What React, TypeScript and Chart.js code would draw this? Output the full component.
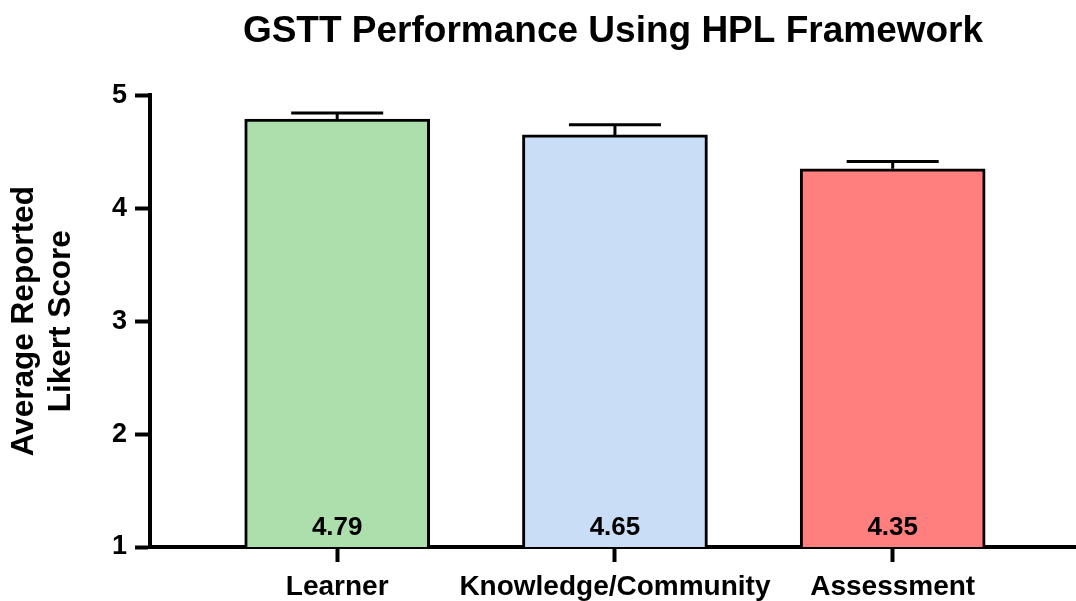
import React, { useEffect, useRef } from "react";
import { Chart, registerables } from "chart.js";

Chart.register(...registerables);

const categories = ["Learner", "Knowledge/Community", "Assessment"];
const means = [4.79, 4.65, 4.35];
const errors = [0.055, 0.09, 0.065];
const valueLabels = ["4.79", "4.65", "4.35"];
const barColors = ["#ADDFAD", "#C9DDF7", "#FF7F7F"];
const yTicks = [1, 2, 3, 4, 5];

const FONT = "'Liberation Sans', Arial, Helvetica, sans-serif";

const errorBarPlugin = {
  id: "errorBars",
  afterDatasetsDraw(chart: any) {
    const ctx = chart.ctx;
    const meta = chart.getDatasetMeta(0);
    const yScale = chart.scales.y;
    ctx.save();
    ctx.strokeStyle = "#000";
    ctx.lineWidth = 3;
    meta.data.forEach((el: any, i: number) => {
      const x = el.x;
      const top = yScale.getPixelForValue(means[i] + errors[i]);
      const barTop = el.y;
      const half = 46;
      ctx.beginPath();
      ctx.moveTo(x, barTop);
      ctx.lineTo(x, top);
      ctx.moveTo(x - half, top);
      ctx.lineTo(x + half, top);
      ctx.stroke();
    });
    ctx.fillStyle = "#000";
    ctx.font = `bold 26px ${FONT}`;
    ctx.textAlign = "center";
    ctx.textBaseline = "middle";
    meta.data.forEach((el: any, i: number) => {
      ctx.fillText(valueLabels[i], el.x, yScale.getPixelForValue(1) - 19);
    });
    ctx.restore();
  },
};

export default function App() {
  const ref = useRef<HTMLCanvasElement | null>(null);
  useEffect(() => {
    document.body.style.margin = "0";
    const canvas = ref.current!;
    const chart = new Chart(canvas, {
      type: "bar",
      data: {
        datasets: [
          {
            data: means.map((v, i) => ({ x: i, y: v })),
            backgroundColor: barColors,
            borderColor: "#000",
            borderWidth: 3,
            borderSkipped: "start",
            barThickness: 185,
          },
        ],
      },
      plugins: [errorBarPlugin],
      options: {
        animation: false,
        responsive: false,
        devicePixelRatio: 1,
        layout: { padding: 0 },
        plugins: {
          legend: { display: false },
          tooltip: { enabled: false },
          title: {
            display: true,
            fullSize: false,
            text: "GSTT Performance Using HPL Framework",
            color: "#000",
            font: { family: FONT, size: 37, weight: "bold" },
            padding: { top: 10, bottom: 41 },
          },
        },
        scales: {
          x: {
            type: "linear",
            offset: false,
            min: -0.674,
            max: 2.66,
            afterBuildTicks: (scale: any) => {
              scale.ticks = categories.map((_, i) => ({ value: i }));
            },
            afterFit: (scale: any) => {
              scale.height = 54;
            },
            ticks: {
              color: "#000",
              font: { family: FONT, size: 28, weight: "bold" },
              padding: 8,
              maxRotation: 0,
              autoSkip: false,
              callback: (v: any) => categories[v] ?? "",
            },
            grid: {
              offset: false,
              drawOnChartArea: false,
              drawTicks: true,
              tickLength: 15,
              tickWidth: 4,
              tickColor: "#000",
            },
            border: { display: true, color: "#000", width: 4 },
          },
          y: {
            type: "linear",
            min: 1,
            max: 5,
            afterBuildTicks: (scale: any) => {
              scale.ticks = yTicks.map((v) => ({ value: v }));
            },
            afterFit: (scale: any) => {
              scale.width = 150;
            },
            ticks: {
              color: "#000",
              font: { family: FONT, size: 27, weight: "bold" },
              padding: 8,
            },
            grid: {
              drawOnChartArea: false,
              drawTicks: true,
              tickLength: 15,
              tickWidth: 4,
              tickColor: "#000",
            },
            border: { display: true, color: "#000", width: 4 },
            title: {
              display: true,
              text: ["Average Reported", "Likert Score"],
              color: "#000",
              font: { family: FONT, size: 31.5, weight: "bold", lineHeight: 1.18 },
              padding: { top: 6, bottom: 0 },
            },
          },
        },
      },
    } as any);
    return () => chart.destroy();
  }, []);
  return (
    <div style={{ width: 1076, height: 601, background: "#fff" }}>
      <canvas ref={ref} width={1076} height={601} />
    </div>
  );
}
